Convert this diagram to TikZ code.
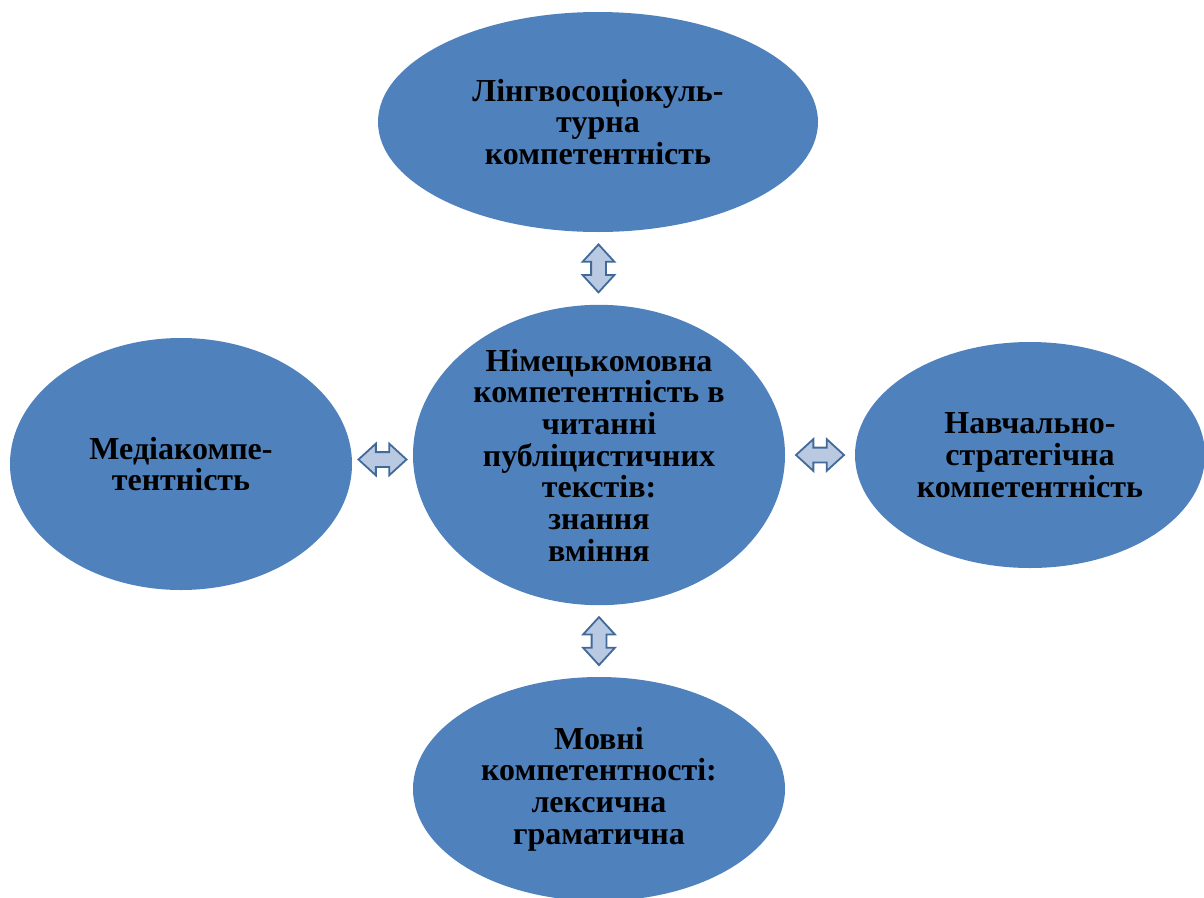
\documentclass[tikz,border=0pt]{standalone}
\usepackage{fontspec}
\setmainfont{Liberation Serif}
\usetikzlibrary{shapes.geometric}
\usetikzlibrary{shapes.arrows}
\usetikzlibrary{positioning}
\usetikzlibrary{calc}

\definecolor{ovalblue}{HTML}{4F81BD}
\definecolor{arrowfill}{HTML}{B9C9E1}
\definecolor{arrowline}{HTML}{41699A}

\tikzset{
  comp/.style={ellipse, fill=ovalblue, inner sep=0pt, align=center,
    font=\fontsize{32}{31.7}\selectfont\bfseries},
  link/.style={double arrow, fill=arrowfill, draw=arrowline, line width=1.8pt,
    text height=6.5pt, text depth=6.5pt, text width=0pt,
    minimum height=48pt, inner sep=0pt,
    double arrow head extend=8.5pt, double arrow tip angle=85}
}

\begin{document}
\begin{tikzpicture}[x=1pt, y=-1pt]
    \useasboundingbox (0, 0) rectangle (1204, 897);
    \clip (0, 0) rectangle (1204, 897);

    \node [comp, minimum width=440pt, minimum height=220pt] (socio) at (598, 122) {Лінгвосоціокуль-\\турна\\компетентність};
    \node [comp, minimum width=372pt, minimum height=300pt] (main) at (599, 455) {Німецькомовна\\компетентність в\\читанні\\публіцистичних\\текстів:\\знання\\вміння};
    \node [comp, minimum width=342pt, minimum height=252pt] (media) at (181, 464) {Медіакомпе-\\тентність};
    \node [comp, minimum width=350pt, minimum height=226pt] (strat) at (1030, 455) {Навчально-\\стратегічна\\компетентність};
    \node [comp, minimum width=372pt, minimum height=224pt] (lang) at (599, 789) {Мовні\\компетентності:\\лексична\\граматична};

    \node [link, rotate=90] (a1) at ($(socio.south)!0.5!(main.north)$) {};
    \node [link, rotate=90] (a2) at ($(main.south)!0.5!(lang.north)$) {};
    \node [link] (a3) at ($(media.east)!0.5!(main.west)$) {};
    \node [link] (a4) at ($(main.east)!0.5!(strat.west)$) {};
  \end{tikzpicture}
\end{document}
